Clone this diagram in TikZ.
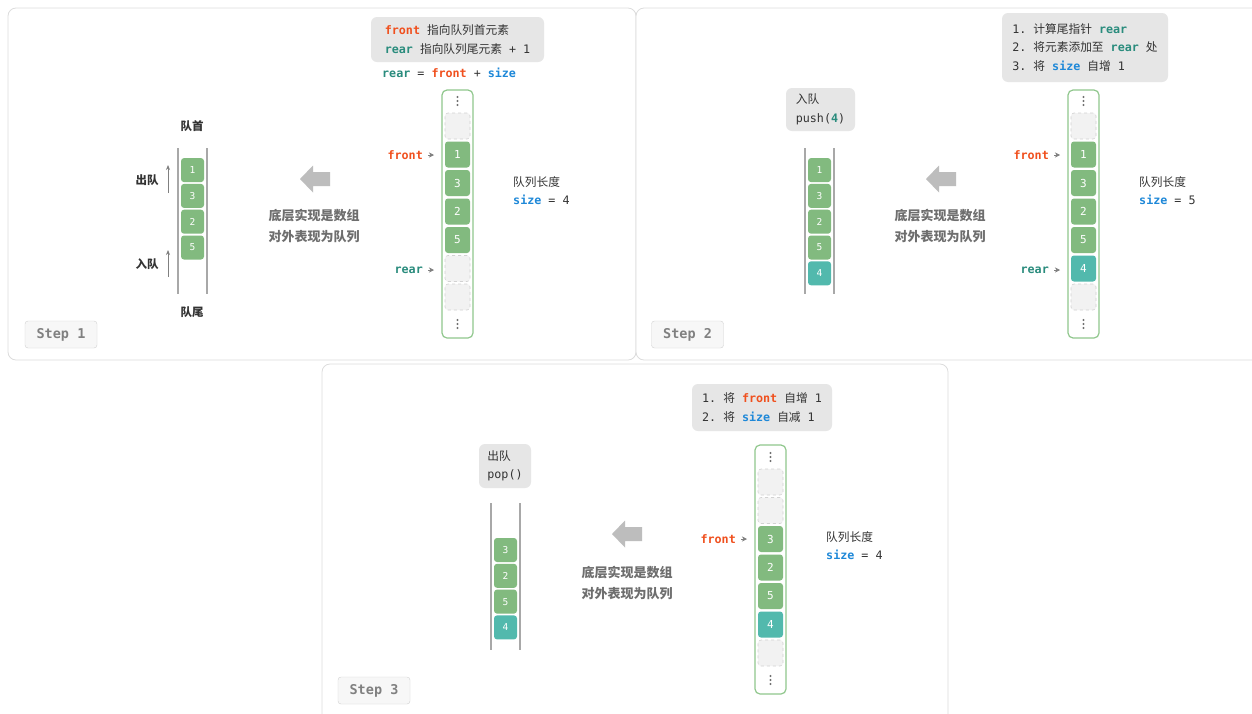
\documentclass[tikz,border=0pt]{standalone}
\usepackage{fontspec}
\setmonofont{DejaVu Sans Mono}
\newfontfamily\cjk{Noto Sans CJK SC}
\usetikzlibrary{arrows.meta}

\definecolor{panelline}{HTML}{DCDCDC}
\definecolor{notefill}{HTML}{E6E6E6}
\definecolor{textc}{HTML}{333333}
\definecolor{capgray}{HTML}{6E6E6E}
\definecolor{cellgreen}{HTML}{82BA7F}
\definecolor{cellteal}{HTML}{52B9AD}
\definecolor{arrgreen}{HTML}{90C78D}
\definecolor{emptyfill}{HTML}{F2F2F2}
\definecolor{emptyline}{HTML}{D2D2D2}
\definecolor{frontc}{HTML}{F0501E}
\definecolor{rearc}{HTML}{2A8C7D}
\definecolor{sizec}{HTML}{1E88D8}
\definecolor{wallgray}{HTML}{A8A8A8}
\definecolor{arrowgray}{HTML}{BDBDBD}
\definecolor{dotgray}{HTML}{707070}

\newcommand{\frontkw}{\textcolor{frontc}{\bfseries front}}
\newcommand{\rearkw}{\textcolor{rearc}{\bfseries rear}}
\newcommand{\sizekw}{\textcolor{sizec}{\bfseries size}}

\begin{document}
\begin{tikzpicture}[x=1pt, y=-1pt,
    panel/.style={draw=panelline, fill=white, rounded corners=8pt, line width=0.8pt},
    note/.style={fill=notefill, rounded corners=6pt, align=left, inner sep=0pt,
        font=\ttfamily\fontsize{11.7}{18.5}\selectfont, text=textc},
    code/.style={align=left, inner sep=0pt, font=\ttfamily\fontsize{11.7}{18}\selectfont, text=textc},
    ptr/.style={inner sep=0pt, font=\ttfamily\bfseries\fontsize{11.7}{14}\selectfont},
    ptrtip/.style={draw=gray, line width=0.6pt, -{Stealth[length=5pt,width=5pt,inset=1.5pt]}},
    arr/.style={draw=arrgreen, line width=1.2pt, rounded corners=5pt, minimum width=31pt},
    dotfill/.style={fill=dotgray},
    cgreen/.style={fill=cellgreen, rounded corners=3pt, minimum width=25pt, minimum height=26pt,
        text=white, font=\ttfamily\fontsize{11}{13}\selectfont},
    cteal/.style={cgreen, fill=cellteal},
    cempty/.style={cgreen, fill=emptyfill, draw=emptyline, dashed, line width=0.6pt},
    qgreen/.style={fill=cellgreen, rounded corners=3pt, minimum width=23pt, minimum height=24pt,
        text=white, font=\ttfamily\fontsize{9.5}{11}\selectfont},
    qteal/.style={qgreen, fill=cellteal},
    qwall/.style={draw=wallgray, line width=1.2pt},
    qarrow/.style={draw=gray, line width=0.8pt, -{Stealth[length=5pt,width=4pt]}},
    lbl/.style={font=\cjk\bfseries\fontsize{11.5}{14}\selectfont, text=textc},
    captext/.style={align=center, font=\cjk\bfseries\fontsize{13}{21}\selectfont, text=capgray},
    bigarrow/.style={fill=arrowgray},
    stepbtn/.style={draw=emptyline, fill=emptyfill!60!white, rounded corners=3pt,
        minimum width=72pt, minimum height=27pt, text=gray,
        font=\ttfamily\bfseries\fontsize{13.5}{15}\selectfont}
]
    \useasboundingbox (0,0) rectangle (1252,713);
    \clip (0,0) rectangle (1252,713);

    % Panels
    \draw[panel] (8,8) rectangle (636,360);
    \draw[panel] (636,8) rectangle (1262,360);
    \draw[panel] (322,364) rectangle (948,723);

    % ---------- Step 1 ----------
    \node[note, minimum width=173pt, minimum height=45pt] (n1) at (457.5,39.5)
        {\frontkw{} {\cjk 指向队列首元素}\\\rearkw{} {\cjk 指向队列尾元素} + 1};
    \node[code, anchor=west] (eq1) at (382,73) {\rearkw{} = \frontkw{} + \sizekw};

    % Array
    \node[arr, minimum height=248pt] (a1) at (457.5,214) {};
    \foreach \d in {-4,0,4} {
        \fill[dotfill] (457.5,101+\d) circle (1.2);
        \fill[dotfill] (457.5,324+\d) circle (1.2);
    }
    \foreach \v/\s [count=\i] in {{}/cempty,1/cgreen,3/cgreen,2/cgreen,5/cgreen,{}/cempty,{}/cempty}
        \node[\s] (a1c\i) at (457.5,{97.5+28.5*\i}) {\v};

    % Pointers
    \node[ptr, text=frontc, anchor=east] (a1f) at (423,155) {front};
    \draw[ptrtip] ([xshift=5pt]a1f.east) -- ([xshift=11pt]a1f.east);
    \node[ptr, text=rearc, anchor=east] (a1r) at (423,270) {rear};
    \draw[ptrtip] ([xshift=5pt]a1r.east) -- ([xshift=11pt]a1r.east);

    \node[code, anchor=west] (s1) at (513,191) {{\cjk 队列长度}\\\sizekw{} = 4};

    % Big arrow and caption
    \fill[bigarrow] (300,179) -- (313,165.5) -- (313,172) -- (330,172) -- (330,186) -- (313,186) -- (313,192.5) -- cycle;
    \node[captext] (c1) at (314,226.5) {底层实现是数组\\对外表现为队列};

    % Queue
    \draw[qwall] (178,148) -- (178,294);
    \draw[qwall] (207,148) -- (207,294);
    \foreach \v [count=\i] in {1,3,2,5}
        \node[qgreen] (q1c\i) at (192.5,{144.3+25.8*\i}) {\v};
    \node[lbl] (q1h) at (192,126) {队首};
    \node[lbl] (q1t) at (192,312) {队尾};
    \node[lbl] (q1o) at (147,180) {出队};
    \node[lbl] (q1i) at (147,264) {入队};
    \coordinate (q1oa) at (168,193);
    \coordinate (q1ob) at (168,165);
    \coordinate (q1ia) at (168,277);
    \coordinate (q1ib) at (168,250);
    \draw[qarrow] (q1oa) -- (q1ob);
    \draw[qarrow] (q1ia) -- (q1ib);

    \node[stepbtn] (b1) at (61,334.5) {Step 1};

    % ---------- Step 2 ----------
    \node[note, minimum width=166pt, minimum height=69pt] (n2) at (1085,47.5)
        {1. {\cjk 计算尾指针} \rearkw\\2. {\cjk 将元素添加至} \rearkw{} {\cjk 处}\\3. {\cjk 将} \sizekw{} {\cjk 自增} 1};
    \node[note, minimum width=69pt, minimum height=43pt] (p2) at (820.5,109.5)
        {{\cjk 入队}\\push(\textcolor{rearc}{\bfseries 4})};

    % Array
    \node[arr, minimum height=248pt] (a2) at (1083.5,214) {};
    \foreach \d in {-4,0,4} {
        \fill[dotfill] (1083.5,101+\d) circle (1.2);
        \fill[dotfill] (1083.5,324+\d) circle (1.2);
    }
    \foreach \v/\s [count=\i] in {{}/cempty,1/cgreen,3/cgreen,2/cgreen,5/cgreen,4/cteal,{}/cempty}
        \node[\s] (a2c\i) at (1083.5,{97.5+28.5*\i}) {\v};

    % Pointers
    \node[ptr, text=frontc, anchor=east] (a2f) at (1049,155) {front};
    \draw[ptrtip] ([xshift=5pt]a2f.east) -- ([xshift=11pt]a2f.east);
    \node[ptr, text=rearc, anchor=east] (a2r) at (1049,270) {rear};
    \draw[ptrtip] ([xshift=5pt]a2r.east) -- ([xshift=11pt]a2r.east);

    \node[code, anchor=west] (s2) at (1139,191) {{\cjk 队列长度}\\\sizekw{} = 5};

    % Big arrow and caption
    \fill[bigarrow] (926,179) -- (939,165.5) -- (939,172) -- (956,172) -- (956,186) -- (939,186) -- (939,192.5) -- cycle;
    \node[captext] (c2) at (940,226.5) {底层实现是数组\\对外表现为队列};

    % Queue
    \draw[qwall] (805,148) -- (805,294);
    \draw[qwall] (834,148) -- (834,294);
    \foreach \v/\s [count=\i] in {1/qgreen,3/qgreen,2/qgreen,5/qgreen,4/qteal}
        \node[\s] (q2c\i) at (819.5,{144.3+25.8*\i}) {\v};

    \node[stepbtn] (b2) at (687.5,334.5) {Step 2};

    % ---------- Step 3 ----------
    \node[note, minimum width=140pt, minimum height=47pt] (n3) at (762,407.5)
        {1. {\cjk 将} \frontkw{} {\cjk 自增} 1\\2. {\cjk 将} \sizekw{} {\cjk 自减} 1};
    \node[note, minimum width=52pt, minimum height=44pt] (p3) at (505,466)
        {{\cjk 出队}\\pop()};

    % Array
    \node[arr, minimum height=249pt] (a3) at (770.5,569.5) {};
    \foreach \d in {-4,0,4} {
        \fill[dotfill] (770.5,457+\d) circle (1.2);
        \fill[dotfill] (770.5,680+\d) circle (1.2);
    }
    \foreach \v/\s [count=\i] in {{}/cempty,{}/cempty,3/cgreen,2/cgreen,5/cgreen,4/cteal,{}/cempty}
        \node[\s] (a3c\i) at (770.5,{453.5+28.5*\i}) {\v};

    % Pointer
    \node[ptr, text=frontc, anchor=east] (a3f) at (736,539) {front};
    \draw[ptrtip] ([xshift=5pt]a3f.east) -- ([xshift=11pt]a3f.east);

    \node[code, anchor=west] (s3) at (826,546) {{\cjk 队列长度}\\\sizekw{} = 4};

    % Big arrow and caption
    \fill[bigarrow] (612,534) -- (625,520.5) -- (625,527) -- (642,527) -- (642,541) -- (625,541) -- (625,547.5) -- cycle;
    \node[captext] (c3) at (627,583) {底层实现是数组\\对外表现为队列};

    % Queue
    \draw[qwall] (491,503) -- (491,650);
    \draw[qwall] (520,503) -- (520,650);
    \foreach \v/\s [count=\i] in {3/qgreen,2/qgreen,5/qgreen,4/qteal}
        \node[\s] (q3c\i) at (505.5,{524.2+25.8*\i}) {\v};

    \node[stepbtn] (b3) at (374,690.5) {Step 3};
\end{tikzpicture}
\end{document}
